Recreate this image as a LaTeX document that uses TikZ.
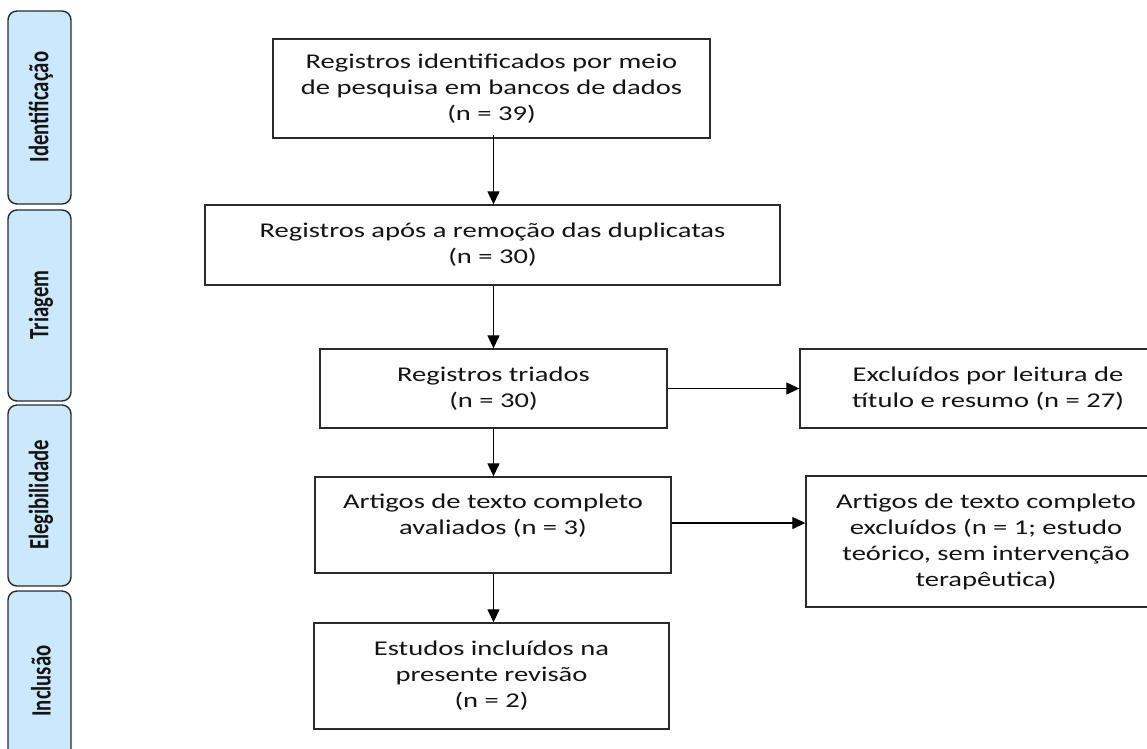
\documentclass[tikz,border=0pt]{standalone}
\usepackage{fontspec}
\setmainfont{Carlito}[FakeStretch=1.36]
\newfontfamily\tabfont{Carlito}
\usetikzlibrary{arrows.meta}
\definecolor{tabblue}{HTML}{CCE8FC}
\definecolor{edge}{HTML}{2A2A2A}
\definecolor{ink}{HTML}{141414}
\newcommand{\tablbl}[1]{\scalebox{0.74}[1]{\tabfont\bfseries #1}}
\tikzset{
  box/.style={draw=edge, line width=1.4pt, rectangle, inner sep=0pt, align=center,
              text=ink, font=\fontsize{21}{26}\selectfont},
  txt/.style={inner sep=0pt, align=center, text=ink, font=\fontsize{21}{26}\selectfont},
  tabbox/.style={draw=edge, line width=1.4pt, fill=tabblue, rounded corners=9pt},
  tablabel/.style={rotate=90, inner sep=0pt, text=ink, font=\fontsize{28}{30}\selectfont},
  arr/.style={-{Triangle[length=13pt,width=12pt]}, line width=1.3pt, draw=black}
}
\begin{document}
\begin{tikzpicture}[x=1pt,y=-1pt]
\useasboundingbox (0,0) rectangle (1147,748);
\clip (0,0) rectangle (1147,748);
\fill[white] (0,0) rectangle (1147,748);

% side tabs
\draw[tabbox] (8,11) rectangle (71,204);
\node[tablabel] (t1) at (41,107) {\tablbl{Identificação}};
\draw[tabbox] (8,210) rectangle (71,401);
\node[tablabel] (t2) at (41,305) {\tablbl{Triagem}};
\draw[tabbox] (8,405) rectangle (71,586);
\node[tablabel] (t3) at (41,495) {\tablbl{Elegibilidade}};
\draw[tabbox] (8,591) rectangle (71,775);
\node[tablabel] (t4) at (41,681) {\tablbl{Inclusão}};

% main boxes
\node[box, minimum width=437pt, minimum height=99pt] (A) at (491.5,88.5)
  {Registros identificados por meio\\de pesquisa em bancos de dados\\(n = 39)};
\node[box, minimum width=575pt, minimum height=80pt] (B) at (492.5,245)
  {Registros após a remoção das duplicatas\\(n = 30)};
\node[box, minimum width=347pt, minimum height=79pt] (C) at (493.5,388.5)
  {Registros triados\\(n = 30)};
\node[box, minimum width=376pt, minimum height=79pt] (D) at (988,388.5)
  {Excluídos por leitura de\\título e resumo (n = 27)};
\node[box, minimum width=356pt, minimum height=96pt] (E) at (493,525) {};
\node[txt] (Et) at (493,516)
  {Artigos de texto completo\\avaliados (n = 3)};
\node[box, minimum width=360pt, minimum height=131pt] (F) at (986,541.5)
  {Artigos de texto completo\\excluídos (n = 1; estudo\\teórico, sem intervenção\\terapêutica)};
\node[box, minimum width=355pt, minimum height=106pt] (G) at (491.5,676)
  {Estudos incluídos na\\presente revisão\\(n = 2)};

% connectors
\draw[arr] ([yshift=4pt]A.south -| C.north) -- (C.north |- B.north);
\draw[arr] (B.south -| C.north) -- (C.north);
\draw[arr] (C.south) -- (C.south |- E.north);
\draw[arr] (C.south |- E.south) -- (C.south |- G.north);
\draw[arr] (C.east) -- (D.west);
\draw[arr] ([yshift=2pt]E.east) -- ([yshift=2pt]E.east -| F.west);
\end{tikzpicture}
\end{document}
